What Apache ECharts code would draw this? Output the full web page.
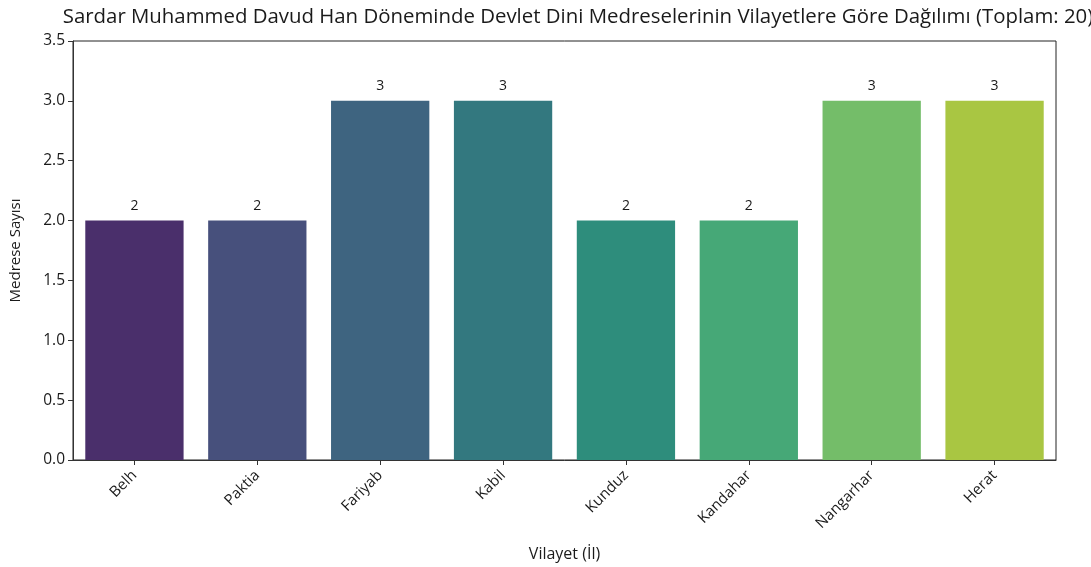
<!DOCTYPE html>
<html>
<head>
    <meta charset="utf-8">
    <script src="https://cdn.jsdelivr.net/npm/echarts@6/dist/echarts.min.js"></script>
    <style>
        html, body { margin: 0; padding: 0; background: #fff; }
        #main { width: 1091px; height: 567px; }
    </style>
</head>
<body>
<div id="main"></div>
<script>
    var provinces = ['Belh', 'Paktia', 'Fariyab', 'Kabil', 'Kunduz', 'Kandahar', 'Nangarhar', 'Herat'];
    var counts = [2, 2, 3, 3, 2, 2, 3, 3];
    var barColors = ['#4a2f6b', '#47507c', '#3e6480', '#33787f', '#2e8d7c', '#46a877', '#74bd69', '#a9c642'];
    var yTicks = [0, 0.5, 1, 1.5, 2, 2.5, 3, 3.5];

    var font = 'Open Sans';
    var chart = echarts.init(document.getElementById('main'));

    var data = counts.map(function (v, i) {
        return { value: v, itemStyle: { color: barColors[i] } };
    });

    chart.setOption({
        animation: false,
        textStyle: { fontFamily: font },
        title: {
            text: 'Sardar Muhammed Davud Han Döneminde Devlet Dini Medreselerinin Vilayetlere Göre Dağılımı (Toplam: 20)',
            left: 573,
            top: 2,
            textAlign: 'center',
            textStyle: { fontSize: 20.4, fontWeight: 'normal', color: '#1a1a1a', fontFamily: font }
        },
        grid: {
            left: 73, right: 35, top: 41, bottom: 103,
            show: true, borderColor: '#222', borderWidth: 1
        },
        xAxis: {
            type: 'category',
            data: provinces,
            name: 'Vilayet (İl)',
            nameLocation: 'middle',
            nameGap: 86,
            nameTextStyle: { fontSize: 16, color: '#1a1a1a' },
            axisLine: { show: true, lineStyle: { color: '#333' } },
            axisTick: { show: true, alignWithLabel: true, length: 5, lineStyle: { color: '#333' } },
            axisLabel: { rotate: 45, fontSize: 15, color: '#1a1a1a', margin: 13, interval: 0 }
        },
        yAxis: {
            type: 'value',
            min: 0, max: 3.5, interval: 0.5,
            name: 'Medrese Sayısı',
            nameLocation: 'middle',
            nameGap: 50,
            nameTextStyle: { fontSize: 15, color: '#1a1a1a' },
            splitLine: { show: false },
            axisLine: { show: true, lineStyle: { color: '#333' } },
            axisTick: { show: true, length: 5, lineStyle: { color: '#333' } },
            axisLabel: {
                fontSize: 15.5, color: '#1a1a1a', margin: 8,
                formatter: function (v) { return yTicks.indexOf(v) >= 0 ? v.toFixed(1) : ''; }
            }
        },
        series: [{
            type: 'bar',
            data: data,
            barWidth: '80%',
            label: {
                show: true, position: 'top', distance: 8,
                fontSize: 14, color: '#1a1a1a'
            }
        }]
    });
</script>
</body>
</html>
